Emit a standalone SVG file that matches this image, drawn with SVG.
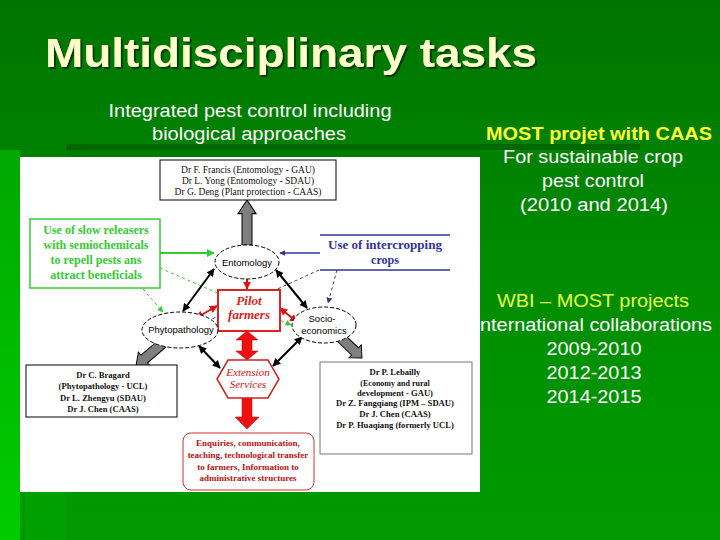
<svg xmlns="http://www.w3.org/2000/svg" width="720" height="540" viewBox="0 0 720 540">
<defs>
<linearGradient id="bg" x1="0" y1="0" x2="0" y2="1">
<stop offset="0" stop-color="#007400"/>
<stop offset="0.5" stop-color="#008c00"/>
<stop offset="1" stop-color="#009a00"/>
</linearGradient>
<linearGradient id="strip" x1="0" y1="0" x2="0" y2="1">
<stop offset="0" stop-color="#00a800"/>
<stop offset="1" stop-color="#00cc00"/>
</linearGradient>
<filter id="sh" x="-5%" y="-20%" width="110%" height="140%">
<feDropShadow dx="2" dy="2" stdDeviation="0.6" flood-color="#002a00" flood-opacity="0.75"/>
</filter>
<marker id="mk" viewBox="0 0 10 10" refX="9" refY="5" markerWidth="4" markerHeight="4" orient="auto-start-reverse"><path d="M0,0 L10,5 L0,10z" fill="#000"/></marker>
<marker id="mr" viewBox="0 0 10 10" refX="9" refY="5" markerWidth="4" markerHeight="4" orient="auto-start-reverse"><path d="M0,0 L10,5 L0,10z" fill="#e01010"/></marker>
<marker id="mg" viewBox="0 0 10 10" refX="9" refY="5" markerWidth="4" markerHeight="4" orient="auto"><path d="M0,0 L10,5 L0,10z" fill="#33cc33"/></marker>
<marker id="mgd" viewBox="0 0 10 10" refX="9" refY="5" markerWidth="6" markerHeight="6" orient="auto"><path d="M0,0 L10,5 L0,10z" fill="#33cc33"/></marker>
<marker id="mb" viewBox="0 0 10 10" refX="9" refY="5" markerWidth="4" markerHeight="4" orient="auto"><path d="M0,0 L10,5 L0,10z" fill="#333399"/></marker>
<marker id="mbd" viewBox="0 0 10 10" refX="9" refY="5" markerWidth="6" markerHeight="6" orient="auto"><path d="M0,0 L10,5 L0,10z" fill="#333399"/></marker>
<polygon id="gray" points="0,0 -12,-9 -12,-5 -40,-5 -40,5 -12,5 -12,9"/>
</defs>
<style>
.sans{font-family:"Liberation Sans",Arial,sans-serif}
.serif{font-family:"Liberation Serif","Times New Roman",serif}
.wt{fill:#ffffff;font-size:18px;text-anchor:middle}
.ell{fill:#ffffff;stroke:#000;stroke-width:1;stroke-dasharray:4 2}
.elt{font-size:9.5px;fill:#000;text-anchor:middle}
.ppl{font-size:8.6px;font-weight:bold;fill:#111;text-anchor:middle}
.blk{stroke:#000;stroke-width:2;fill:none;marker-start:url(#mk);marker-end:url(#mk)}
.red{stroke:#e01010;stroke-width:2;fill:none;marker-start:url(#mr);marker-end:url(#mr)}
.gd{stroke:#33cc33;stroke-width:1;stroke-dasharray:3 3;fill:none;marker-end:url(#mgd)}
.bd{stroke:#333399;stroke-width:1;stroke-dasharray:3 3;fill:none;marker-end:url(#mbd)}
.garrow{fill:#7f7f7f;stroke:#000;stroke-width:1}
.rarrow{fill:#ee1111;stroke:#cc0000;stroke-width:0.5}
</style>

<!-- background -->
<rect x="0" y="0" width="720" height="540" fill="url(#bg)"/>
<rect x="0" y="150" width="20" height="390" fill="url(#strip)"/>
<rect x="25" y="492" width="41" height="48" fill="#00a000"/>
<rect x="66" y="144" width="574" height="6" fill="#006800"/>
<rect x="66" y="150" width="414" height="7" fill="#007a00"/>

<!-- title and side texts -->
<text x="45" y="67" class="sans" font-size="40" font-weight="bold" fill="#ffffcc" textLength="492" lengthAdjust="spacingAndGlyphs" filter="url(#sh)">Multidisciplinary tasks</text>
<text x="250" y="117" class="sans wt" textLength="283" lengthAdjust="spacingAndGlyphs">Integrated pest control including</text>
<text x="249" y="140" class="sans wt" textLength="194" lengthAdjust="spacingAndGlyphs">biological approaches</text>
<text x="599" y="140" class="sans" font-size="18" font-weight="bold" fill="#ffff33" text-anchor="middle" textLength="226" lengthAdjust="spacingAndGlyphs">MOST projet with CAAS</text>
<text x="593" y="163" class="sans wt" textLength="180" lengthAdjust="spacingAndGlyphs">For sustainable crop</text>
<text x="593" y="187" class="sans wt" textLength="102" lengthAdjust="spacingAndGlyphs">pest control</text>
<text x="594" y="211" class="sans wt" textLength="148" lengthAdjust="spacingAndGlyphs">(2010 and 2014)</text>
<text x="593" y="307" class="sans" font-size="18" fill="#e6ff40" text-anchor="middle" textLength="192" lengthAdjust="spacingAndGlyphs">WBI – MOST projects</text>
<text x="480" y="331" class="sans" font-size="18" fill="#ffffff" textLength="232" lengthAdjust="spacingAndGlyphs">nternational collaborations</text>
<text x="594" y="355" class="sans wt" textLength="95" lengthAdjust="spacingAndGlyphs">2009-2010</text>
<text x="594" y="379" class="sans wt" textLength="95" lengthAdjust="spacingAndGlyphs">2012-2013</text>
<text x="594" y="403" class="sans wt" textLength="95" lengthAdjust="spacingAndGlyphs">2014-2015</text>

<!-- diagram panel -->
<rect x="20" y="157" width="460" height="335" fill="#ffffff"/>

<g id="connectors">
<!-- dashed green -->
<line class="gd" x1="160" y1="268" x2="291" y2="325"/>
<line class="gd" x1="143" y1="289" x2="163" y2="312"/>
<!-- dashed blue -->
<line class="bd" x1="319" y1="270" x2="199" y2="325"/>
<line class="bd" x1="337" y1="270" x2="328" y2="303"/>
<!-- solid green and blue -->
<line x1="160" y1="253" x2="214" y2="253" stroke="#33cc33" stroke-width="2" marker-end="url(#mg)"/>
<line x1="320" y1="253" x2="280" y2="253" stroke="#333399" stroke-width="1.5" marker-end="url(#mb)"/>
<!-- black double arrows -->
<line class="blk" x1="214" y1="269" x2="183" y2="311"/>
<line class="blk" x1="276" y1="270" x2="307" y2="308"/>
<line class="blk" x1="199" y1="346" x2="220" y2="368"/>
<line class="blk" x1="302" y1="337" x2="273" y2="366"/>
<!-- gray block arrows -->
<use href="#gray" class="garrow" transform="translate(247,200) rotate(-90) scale(1.13,1)"/>
<use href="#gray" class="garrow" transform="translate(136,366) rotate(139.6) scale(0.9,1)"/>
<use href="#gray" class="garrow" transform="translate(362,358) rotate(43.7) scale(0.8,1)"/>
<!-- red block arrows -->
<polygon class="rarrow" points="247,331 258,340 252,340 252,351 258,351 247,360 236,351 242,351 242,340 236,340"/>
<polygon class="rarrow" points="242,398 252,398 252,417 259,417 247,429 235,417 242,417"/>
<!-- red small double arrows -->
<line class="red" x1="247" y1="272" x2="247" y2="289"/>
<line class="red" x1="217" y1="306" x2="196" y2="318"/>
<line class="red" x1="280" y1="308" x2="297" y2="322"/>
</g>

<g id="top-box">
<rect x="160" y="160" width="176" height="40" fill="#fff" stroke="#000" stroke-width="1"/>
<text class="serif" font-size="9.5" fill="#111" text-anchor="middle"><tspan x="248" y="173">Dr F. Francis (Entomology - GAU)</tspan><tspan x="248" y="184">Dr L. Yong (Entomology - SDAU)</tspan><tspan x="248" y="195">Dr G. Deng (Plant protection - CAAS)</tspan></text>
</g>

<g id="green-box">
<rect x="30" y="219" width="130" height="69" fill="#fff" stroke="#33cc33" stroke-width="1.5"/>
<text class="serif" font-size="12" font-weight="bold" fill="#33cc33" text-anchor="middle"><tspan x="96" y="234">Use of slow releasers</tspan><tspan x="96" y="249">with semiochemicals</tspan><tspan x="96" y="264">to repell pests ans</tspan><tspan x="96" y="279">attract beneficials</tspan></text>
</g>

<g id="intercropping">
<line x1="320" y1="235" x2="450" y2="235" stroke="#333399" stroke-width="1.5"/>
<line x1="320" y1="270" x2="450" y2="270" stroke="#333399" stroke-width="1.5"/>
<text class="serif" font-size="12" font-weight="bold" fill="#333399" text-anchor="middle"><tspan x="385" y="249" textLength="114" lengthAdjust="spacingAndGlyphs">Use of intercropping</tspan><tspan x="385" y="264">crops</tspan></text>
</g>

<g id="entomology">
<ellipse class="ell" cx="247" cy="262" rx="32" ry="17"/>
<text class="sans elt" x="247" y="266">Entomology</text>
</g>

<g id="pilot-farmers">
<rect x="218" y="290" width="62" height="41" fill="#fff" stroke="#dd2222" stroke-width="2"/>
<text class="serif" font-size="13" font-weight="bold" font-style="italic" fill="#dd2222" text-anchor="middle"><tspan x="249" y="305">Pilot</tspan><tspan x="249" y="319">farmers</tspan></text>
</g>

<g id="phytopathology">
<ellipse class="ell" cx="180" cy="330" rx="38" ry="18"/>
<text class="sans elt" x="181" y="333">Phytopathology</text>
</g>

<g id="socio-economics">
<ellipse class="ell" cx="324" cy="325" rx="32" ry="18"/>
<text class="sans elt"><tspan x="322" y="322">Socio-</tspan><tspan x="324" y="334">economics</tspan></text>
</g>

<g id="extension">
<polygon points="217,379 228,360 268,360 279,379 268,398 228,398" fill="#fff" stroke="#cc2222" stroke-width="1.5"/>
<text class="serif" font-size="11" font-style="italic" fill="#dd1111" text-anchor="middle"><tspan x="248" y="376">Extension</tspan><tspan x="248" y="388">Services</tspan></text>
</g>

<g id="left-box">
<rect x="26" y="365" width="151" height="52" fill="#fff" stroke="#000" stroke-width="1"/>
<text class="serif ppl"><tspan x="103" y="378">Dr C. Bragard</tspan><tspan x="103" y="389">(Phytopathology - UCL)</tspan><tspan x="103" y="401">Dr L. Zhengyu (SDAU)</tspan><tspan x="103" y="412">Dr J. Chen (CAAS)</tspan></text>
</g>

<g id="right-box">
<rect x="320" y="362" width="152" height="92" fill="#fff" stroke="#777" stroke-width="1"/>
<text class="serif ppl"><tspan x="395" y="375">Dr P. Lebailly</tspan><tspan x="395" y="386" font-size="8">(Economy and rural</tspan><tspan x="395" y="396">development - GAU)</tspan><tspan x="395" y="406">Dr Z. Fangqiang (IPM – SDAU)</tspan><tspan x="395" y="417">Dr J. Chen (CAAS)</tspan><tspan x="395" y="428">Dr P. Huaqiang (formerly UCL)</tspan></text>
</g>

<g id="bottom-box">
<rect x="183" y="433" width="131" height="57" rx="8" fill="#fff" stroke="#cc3333" stroke-width="1"/>
<text class="serif" font-size="9" font-weight="bold" fill="#bb1111" text-anchor="middle"><tspan x="248" y="446">Enquiries, communication,</tspan><tspan x="248" y="458">teaching, technological transfer</tspan><tspan x="248" y="470">to farmers, Information to</tspan><tspan x="248" y="481">administrative structures</tspan></text>
</g>
</svg>
